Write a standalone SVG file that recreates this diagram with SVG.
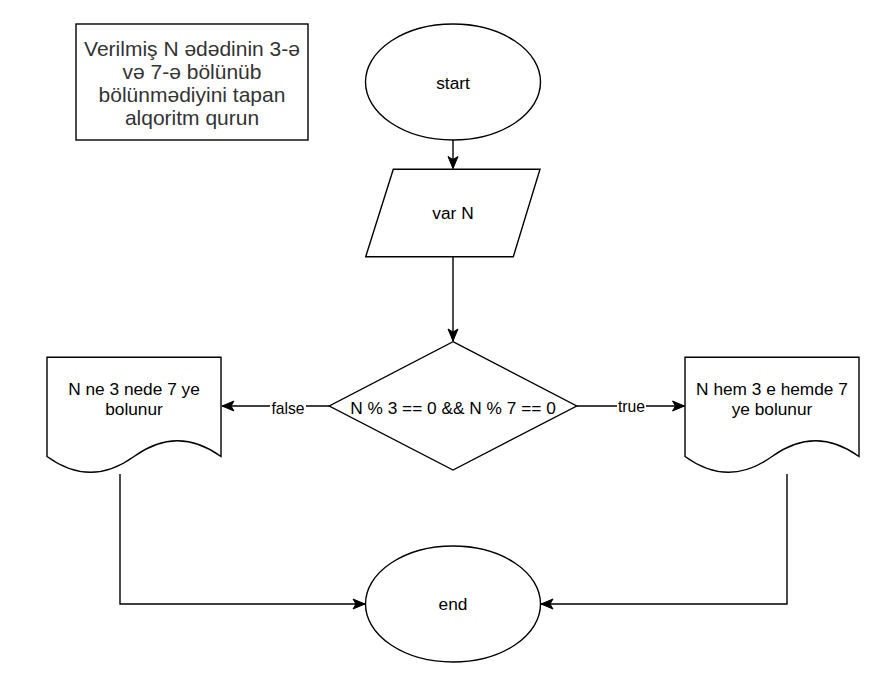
<svg xmlns="http://www.w3.org/2000/svg" width="894" height="685" viewBox="0 0 894 685">
<style>
.shape{fill:#ffffff;stroke:#000000;stroke-width:1.4}
.edge{fill:none;stroke:#000000;stroke-width:1.4}
text{font-family:"Liberation Sans",Arial,Helvetica,sans-serif;fill:#000000;text-anchor:middle}
.t{font-size:17.3px}
.title{font-size:21px;fill:#333333}
.lbl{font-size:15.7px}
</style>
<defs>
<marker id="arrow" markerUnits="userSpaceOnUse" viewBox="-13 -6 14 12" refX="0" refY="0" markerWidth="14" markerHeight="12" orient="auto">
<path d="M0,0 L-12,-5 L-9,0 L-12,5 Z" fill="#000000" stroke="#000000" stroke-width="1"/>
</marker>
</defs>
<rect width="894" height="685" fill="#ffffff"/>
<g id="connectors">
<path class="edge" d="M453,140 L453,168.5" marker-end="url(#arrow)"/>
<path class="edge" d="M453,256.7 L453,341" marker-end="url(#arrow)"/>
<path class="edge" d="M329.3,406 L222,406" marker-end="url(#arrow)"/>
<path class="edge" d="M576.7,406 L684.5,406" marker-end="url(#arrow)"/>
<path class="edge" d="M120,474 L120,604 L365,604" marker-end="url(#arrow)"/>
<path class="edge" d="M787,474 L787,604 L541,604" marker-end="url(#arrow)"/>
<g id="label-false">
<rect x="270" y="400" width="36" height="16" fill="#ffffff"/>
<text class="lbl" x="288" y="414">false</text>
</g>
<g id="label-true">
<rect x="617" y="398" width="29" height="16" fill="#ffffff"/>
<text class="lbl" x="631.5" y="412">true</text>
</g>
</g>
<g id="title">
<rect class="shape" x="76" y="24" width="232" height="116"/>
<text class="title" x="192" y="56">Verilmiş N ədədinin 3-ə</text>
<text class="title" x="192" y="79">və 7-ə bölünüb</text>
<text class="title" x="192" y="102">bölünmədiyini tapan</text>
<text class="title" x="192" y="125">alqoritm qurun</text>
</g>
<g id="start">
<ellipse class="shape" cx="453" cy="82" rx="87.5" ry="58"/>
<text class="t" x="453" y="89">start</text>
</g>
<g id="input">
<polygon class="shape" points="393.3,169.3 540,169.3 513.3,256.7 365.7,256.7"/>
<text class="t" x="453" y="219">var N</text>
</g>
<g id="decision">
<polygon class="shape" points="453,341.7 576.7,406 453,470 329.3,406"/>
<text class="t" x="453" y="414">N % 3 == 0 &amp;&amp; N % 7 == 0</text>
</g>
<g id="doc-false">
<path class="shape" d="M47,357.3 L221,357.3 L221,456.5 Q177.5,425 134,456.5 Q90.5,488 47,456.5 Z"/>
<text class="t" x="134" y="395">N ne 3 nede 7 ye</text>
<text class="t" x="134" y="415">bolunur</text>
</g>
<g id="doc-true">
<path class="shape" d="M685,357.3 L859,357.3 L859,456.5 Q815.5,425 772,456.5 Q728.5,488 685,456.5 Z"/>
<text class="t" x="772" y="395">N hem 3 e hemde 7</text>
<text class="t" x="772" y="415">ye bolunur</text>
</g>
<g id="end">
<ellipse class="shape" cx="453" cy="604" rx="87.5" ry="58"/>
<text class="t" x="453" y="610">end</text>
</g>
</svg>
